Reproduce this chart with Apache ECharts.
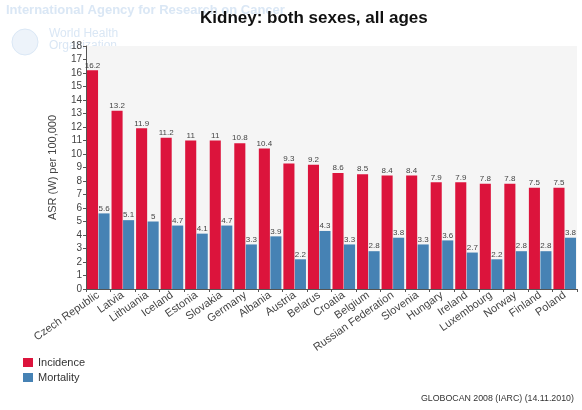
<html>
  <head>
    <meta charset="utf-8" />
    <script src="https://cdn.jsdelivr.net/npm/echarts@6/dist/echarts.min.js"></script>
  </head>
  <body>
    <style>
      html,
      body,
      #main {
        width: 100%;
        height: 100%;
        margin: 0;
        background: #fff;
      }
    </style>
    <div id="main"></div>
    <script>
      var chart = echarts.init(document.getElementById('main'));

      var countries = [
        'Czech Republic', 'Latvia', 'Lithuania', 'Iceland', 'Estonia',
        'Slovakia', 'Germany', 'Albania', 'Austria', 'Belarus', 'Croatia',
        'Belgium', 'Russian Federation', 'Slovenia', 'Hungary', 'Ireland',
        'Luxembourg', 'Norway', 'Finland', 'Poland'
      ];
      var incidence = [16.2, 13.2, 11.9, 11.2, 11, 11, 10.8, 10.4, 9.3, 9.2,
        8.6, 8.5, 8.4, 8.4, 7.9, 7.9, 7.8, 7.8, 7.5, 7.5];
      var mortality = [5.6, 5.1, 5, 4.7, 4.1, 4.7, 3.3, 3.9, 2.2, 4.3,
        3.3, 2.8, 3.8, 3.3, 3.6, 2.7, 2.2, 2.8, 2.8, 3.8];

      var barLabel = {
        show: true,
        position: 'top',
        distance: 1,
        fontSize: 8,
        color: '#444',
        fontFamily: 'Liberation Sans'
      };

      var option = {
        textStyle: { fontFamily: 'Liberation Sans' },
        title: {
          text: 'Kidney: both sexes, all ages',
          left: 195,
          top: 5,
          textStyle: { fontSize: 17, fontWeight: 'bold', color: '#111' }
        },
        graphic: [
          {
            type: 'text', left: 6, top: 4, z: -1,
            style: {
              text: 'International Agency for Research on Cancer',
              fill: '#dae7f5', font: 'bold 13px Liberation Sans'
            }
          },
          {
            type: 'circle', shape: { cx: 25, cy: 42, r: 13 }, z: -1,
            style: { fill: '#edf3fa', stroke: '#dae7f5' }
          },
          {
            type: 'text', left: 49, top: 28, z: -1,
            style: {
              text: 'World Health\nOrganization',
              fill: '#dae7f5', font: '12px Liberation Sans', lineHeight: 12
            }
          }
        ],
        legend: {
          left: 18,
          top: 352,
          orient: 'vertical',
          itemWidth: 10,
          itemHeight: 9,
          itemGap: 4,
          icon: 'rect',
          textStyle: { fontSize: 11, color: '#333' },
          data: ['Incidence', 'Mortality']
        },
        grid: {
          left: 86,
          right: 5,
          top: 46,
          bottom: 121,
          show: true,
          backgroundColor: '#f5f5f5',
          borderWidth: 0
        },
        xAxis: {
          type: 'category',
          data: countries,
          axisLine: { lineStyle: { color: '#555' } },
          axisTick: { show: true, length: 3, lineStyle: { color: '#555' } },
          axisLabel: { rotate: 35, fontSize: 11, color: '#444', margin: 5, interval: 0 }
        },
        yAxis: {
          type: 'value',
          min: 0,
          max: 18,
          interval: 1,
          name: 'ASR (W) per 100,000',
          nameLocation: 'middle',
          nameGap: 28,
          nameTextStyle: { fontSize: 11, color: '#444' },
          axisLine: { show: true, lineStyle: { color: '#555' } },
          axisTick: { show: true, length: 3, lineStyle: { color: '#555' } },
          axisLabel: { fontSize: 10, color: '#444', margin: 4 },
          splitLine: { show: false }
        },
        series: [
          {
            name: 'Incidence',
            type: 'bar',
            data: incidence,
            itemStyle: { color: '#dc143c' },
            barGap: '4%',
            barCategoryGap: '8%',
            label: barLabel
          },
          {
            name: 'Mortality',
            type: 'bar',
            data: mortality,
            itemStyle: { color: '#4682b4' },
            label: barLabel
          }
        ]
      };

      chart.setOption(option);

      window.onresize = function () {
        chart.resize();
      };
    </script>
    <div style="position:absolute;left:421px;top:393px;font:8.8px 'Liberation Sans';color:#333;white-space:nowrap;">GLOBOCAN 2008 (IARC) (14.11.2010)</div>
  </body>
</html>
